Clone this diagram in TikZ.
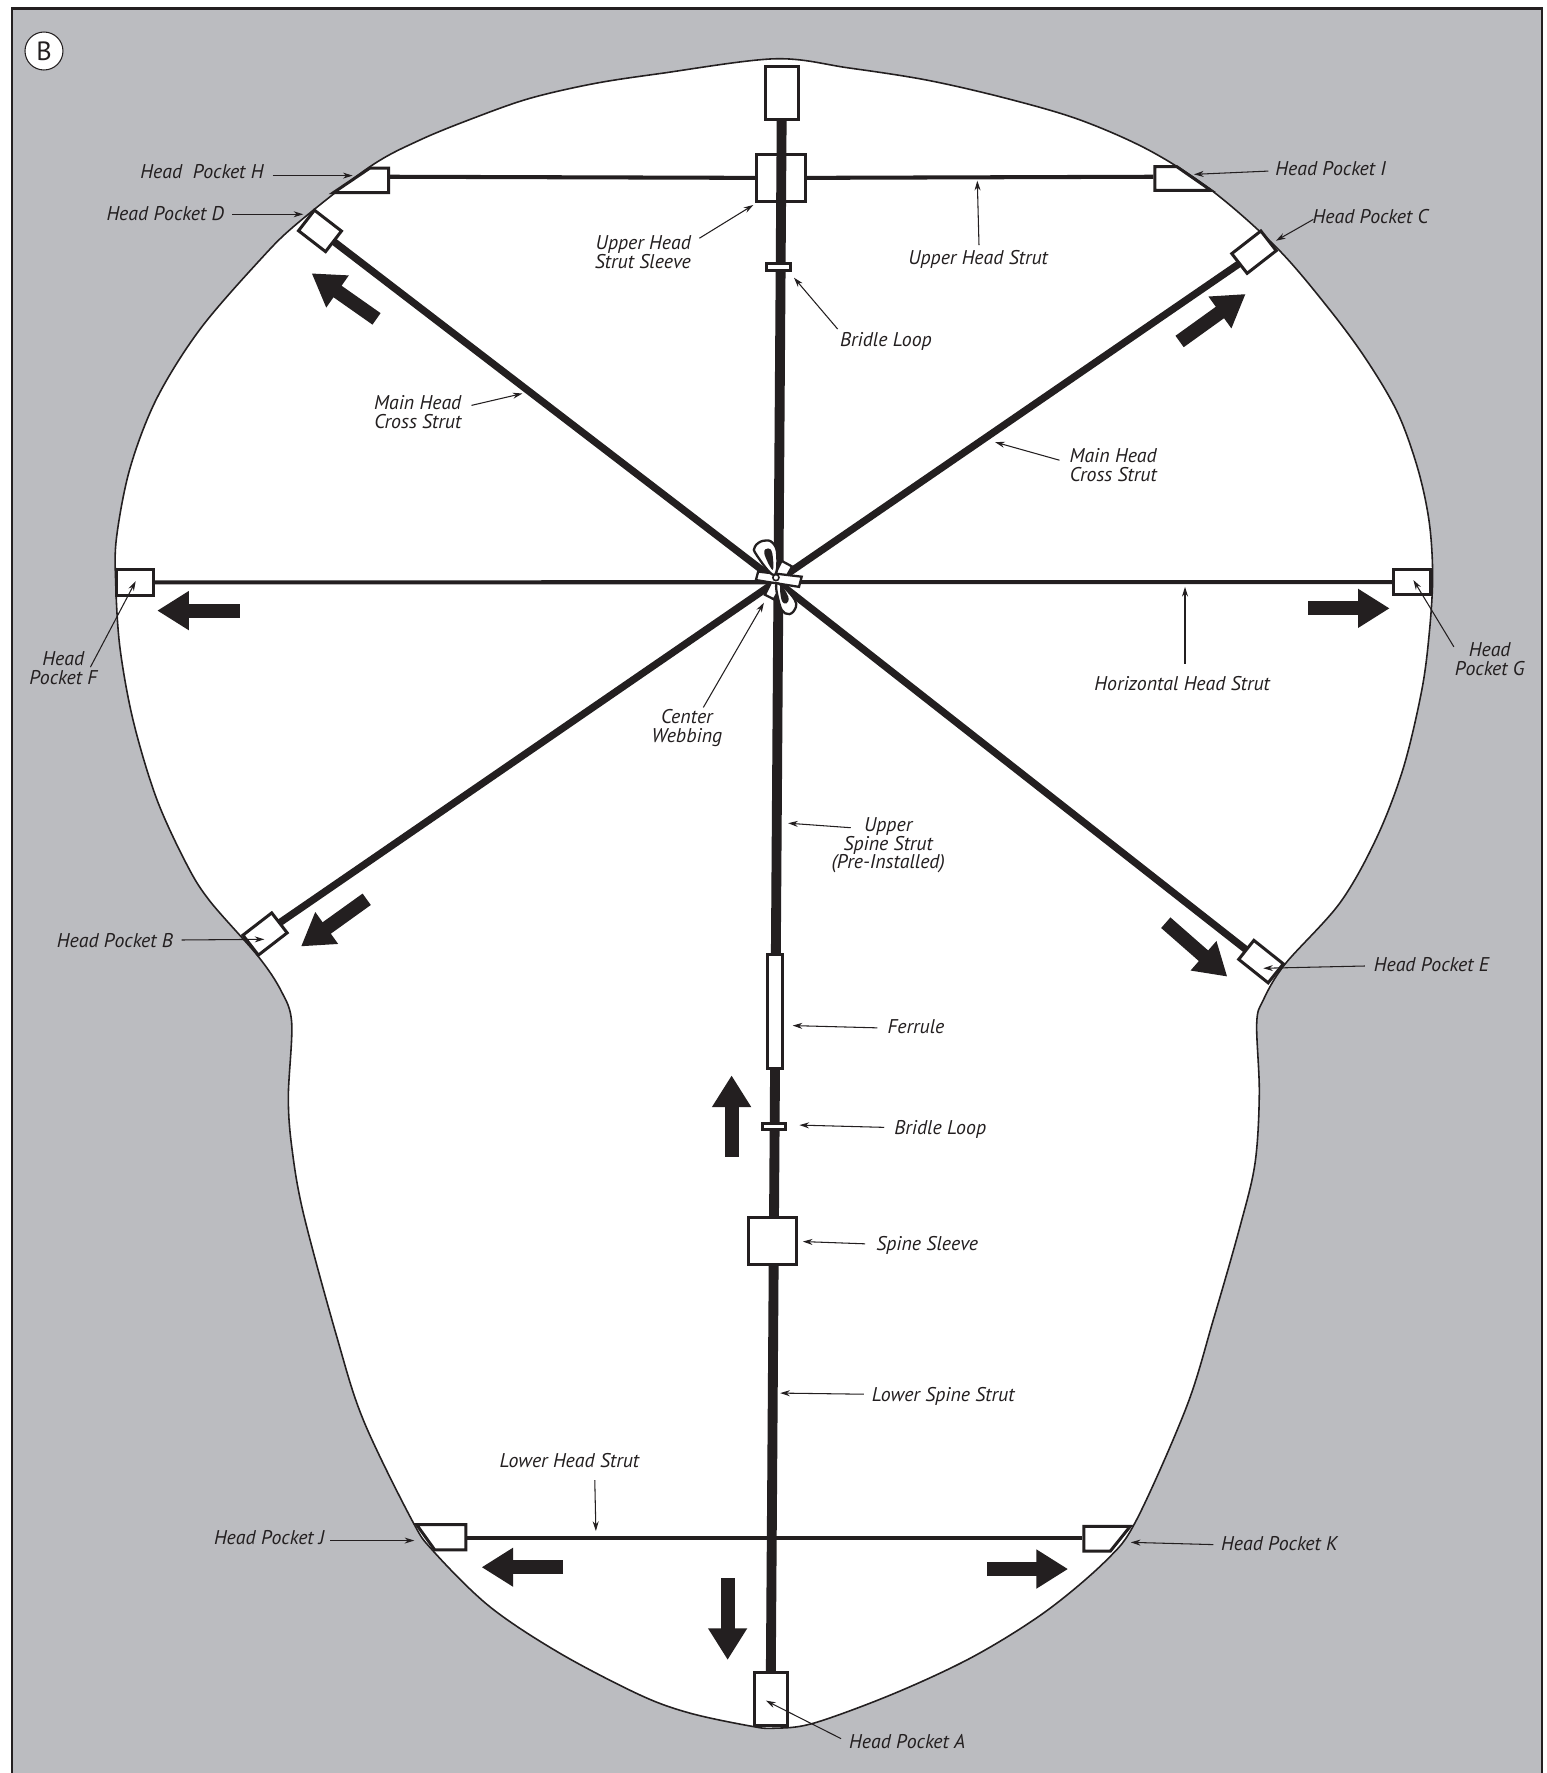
\documentclass[tikz,border=0pt]{standalone}
\usepackage{fontspec}
\setmainfont{PT Sans}
\usetikzlibrary{arrows.meta}
\definecolor{skycolor}{rgb}{0.733,0.737,0.753}
\definecolor{inkcolor}{rgb}{0.137,0.122,0.125}
\tikzset{
  pocket/.style 2 args={draw=inkcolor,fill=white,line width=1.7pt,inner sep=0pt,outer sep=0pt,
    minimum width={(#1-1.4)*0.643pt},minimum height={(#2-1.4)*0.643pt}},
  trapeze/.style={draw=inkcolor,fill=white,line width=1.7pt,line join=miter},
  thinstrut/.style={draw=inkcolor,line width=2.3pt},
  crossstrut/.style={draw=inkcolor,line width=4.1pt},
  spinestrut/.style={draw=inkcolor,line width=5.6pt},
  leader/.style={draw=inkcolor,line width=0.6pt,-{Stealth[length=5.5pt,width=3.4pt]}},
  pushdir/.style={draw=inkcolor,line width=8pt,-{Triangle[length=18pt,width=21pt]}},
  lbl/.style={text=inkcolor,inner sep=0pt,outer sep=0pt,text height=8pt,text depth=0pt,
    font=\fontsize{11.3}{10.6}\selectfont\itshape},
  lbltwo/.style={text=inkcolor,inner sep=0pt,outer sep=0pt,align=#1,
    font=\fontsize{11.3}{10.6}\selectfont\itshape},
  webbing/.style={draw=inkcolor,fill=white,line width=1.3pt}
}
\begin{document}
\begin{tikzpicture}[x={(0.643pt,0pt)},y={(0pt,-0.643pt)}]
\useasboundingbox (0,0) rectangle (1368,1568);

\fill[skycolor] (10.5,7.5) rectangle (1363.5,1568);
\draw[inkcolor,line width=1.2pt] (10.5,1568) -- (10.5,7.5) -- (1363.5,7.5) -- (1363.5,1568);
\node[circle,draw=inkcolor,fill=white,line width=0.6pt,minimum size=21.6pt,inner sep=0pt,text=inkcolor,font=\fontsize{15}{15}\selectfont] (letterB) at (38.9,45.1) {B};

% kite outline, clockwise from the top
\draw[inkcolor,line width=0.9pt,fill=white] plot[smooth cycle,tension=0.55] coordinates {
  (685,52) (750,60) (819.5,70.8) (890,87) (955,106) (1017,133.3) (1073,169.5)
  (1130.5,220.5) (1176,274) (1208.6,318.4) (1236,365) (1254,415) (1264,462) (1267,510)
  (1264,560) (1257.3,610.8) (1241,679.4) (1217.5,740.8) (1185,798.5) (1136.4,852.7) (1117.2,884.4)
  (1111.4,905) (1113.7,966.9) (1109.9,1028.8) (1096.6,1084.8) (1073,1167.3) (1049.4,1244)
  (1005.2,1344) (978.7,1379.6) (925,1425) (860.8,1465) (790,1498) (719.3,1524) (684,1528.4)
  (663.3,1526.4) (610,1515) (566,1499) (495,1462) (433,1420.8) (383.4,1372) (364.1,1344)
  (321.3,1255.8) (297.8,1182) (268.3,1073) (258,1014) (255,969.8) (258,905) (249,877)
  (228.5,846) (185.7,797) (165,764.2) (138.5,706.4) (117.9,637.8) (106.1,572.9) (102.3,515)
  (103.1,475) (115,414) (138.5,352.6) (176.8,291.3) (229.9,229.9) (262.4,198) (327.2,147.4)
  (371.4,123.8) (420,104) (468.5,87) (525,74) (584,65)};

\coordinate (hub) at (686.8,514);

% pockets
\node[pocket={30.6}{48.2}] (pocketTop) at (691.3,82.1) {};
\node[pocket={44.2}{43.4}] (sleeveUpper) at (690.7,157.3) {};
\node[pocket={31}{48.7}] (pocketA) at (681.7,1502.6) {};
\node[pocket={33.6}{23.7},rotate=37.7] (pocketB) at (234.4,826) {};
\node[pocket={34}{23.5},rotate=37.9] (pocketC) at (1109,223) {};
\node[pocket={31.6}{24.4},rotate=-37.7] (pocketD) at (283,204.2) {};
\node[pocket={34.7}{22.9},rotate=-38.6] (pocketE) at (1115.2,850.4) {};
\node[pocket={34}{24.5}] (pocketF) at (119.5,515) {};
\node[pocket={34}{24}] (pocketG) at (1249,514.8) {};

\draw[trapeze] (327,148.7) -- (343.7,148.7) -- (343.7,170.3) -- (295,170.3) -- cycle;
\draw[trapeze] (1021.3,147.3) -- (1040.6,147.3) -- (1071,168.4) -- (1021.3,168.4) -- cycle;
\draw[trapeze] (368.5,1348.4) -- (412,1348.4) -- (412,1370.7) -- (384.5,1370.7) -- cycle;
\draw[trapeze] (958.5,1349.9) -- (999.5,1349.9) -- (982,1371.7) -- (958.5,1371.7) -- cycle;
\coordinate (pocketH) at (345,156.3);
\coordinate (pocketI) at (1020,156.3);
\coordinate (pocketJ) at (413.3,1360.2);
\coordinate (pocketK) at (957.2,1360.2);

% struts
\draw[thinstrut] (pocketH) -- (sleeveUpper.west);
\draw[thinstrut] (sleeveUpper.east) -- (pocketI);
\draw[thinstrut] (pocketJ) -- (pocketK);
\draw[thinstrut] (pocketF.east) -- (pocketG.west);
\draw[crossstrut] (pocketD.east) -- (hub);
\draw[crossstrut] (pocketC.west) -- (hub);
\draw[crossstrut] (pocketB.east) -- (hub);
\draw[crossstrut] (pocketE.west) -- (hub);
\draw[spinestrut] (pocketTop.south) -- (pocketA.north);

\node[pocket={22.2}{7.4}] (loopUpper) at (688.5,236.3) {};
\node[pocket={21}{7}] (loopLower) at (684.5,996) {};
\node[pocket={15}{103}] (ferrule) at (685.5,894.5) {};
\node[pocket={44}{43}] (sleeveSpine) at (683,1097.5) {};

% center webbing
\draw[webbing] (691.2,496) -- (700.5,501) -- (684.4,530) -- (676.5,526) -- cycle;
\draw[webbing] (670.5,505.5) -- (709,510) -- (706.6,519) -- (668.5,513) -- cycle;
\draw[webbing] plot[smooth cycle,tension=0.7] coordinates {(684.4,508.5) (669.1,490.8) (667.6,483.5) (675,478.2) (683.3,480) (687.4,490.8)};
\fill[inkcolor] plot[smooth cycle,tension=0.7] coordinates {(683.3,504) (675.9,489.4) (679.4,485) (683,489.4)};
\draw[webbing] plot[smooth cycle,tension=0.7] coordinates {(687.4,515.9) (703,530.6) (701.5,541) (694.2,542.4) (689.2,533.6)};
\fill[inkcolor] plot[smooth cycle,tension=0.7] coordinates {(690.3,517.4) (697.1,527.7) (695.6,533.6) (691.2,530.6)};
\node[circle,draw=inkcolor,fill=white,line width=0.9pt,minimum size=3.5pt,inner sep=0pt] (knot) at (686.2,510.8) {};

% direction arrows
\draw[pushdir] (333,282) -- (275.6,241.7);
\draw[pushdir] (1043.2,302) -- (1101.6,260);
\draw[pushdir] (1031,816) -- (1085.4,863.7);
\draw[pushdir] (324.3,795.3) -- (266.2,837);
\draw[pushdir] (212,540) -- (139,540);
\draw[pushdir] (1157,538) -- (1229,538);
\draw[pushdir] (647,1023) -- (647,951);
\draw[pushdir] (643.5,1395.7) -- (643.5,1468);
\draw[pushdir] (498,1386) -- (425.9,1386);
\draw[pushdir] (873,1387.6) -- (944.6,1387.6);

% labels
\node[lbl,anchor=east] (lblH) at (233,152) {Head\ \ Pocket H};
\node[lbl,anchor=east] (lblD) at (198,189) {Head Pocket D};
\node[lbl,anchor=west] (lblI) at (1128,149) {Head Pocket I};
\node[lbl,anchor=west] (lblC) at (1160.9,191) {Head Pocket C};
\node[lbl,anchor=west] (lblE) at (1215,853) {Head Pocket E};
\node[lbl,anchor=east] (lblB) at (153,832) {Head Pocket B};
\node[lbl,anchor=west] (lblK) at (1080,1365) {Head Pocket K};
\node[lbl,anchor=east] (lblJ) at (287,1360) {Head Pocket J};
\node[lbl,anchor=west] (lblA) at (751,1540) {Head Pocket A};
\node[lbl] (lblUpperHead) at (865,228) {Upper Head Strut};
\node[lbl,anchor=west] (lblLoopUpper) at (743,300) {Bridle Loop};
\node[lbl] (lblHorizontal) at (1045.5,604) {Horizontal Head Strut};
\node[lbl,anchor=west] (lblFerrule) at (785,908) {Ferrule};
\node[lbl,anchor=west] (lblLoopLower) at (791,997) {Bridle Loop};
\node[lbl,anchor=west] (lblSleeve) at (775,1100) {Spine Sleeve};
\node[lbl,anchor=west] (lblLowerSpine) at (771,1233) {Lower Spine Strut};
\node[lbl] (lblLowerHead) at (503.5,1292) {Lower Head Strut};
\node[lbltwo=right,anchor=east] (lblMainLeft) at (408,364.5) {Main Head\\Cross Strut};
\node[lbltwo=right,anchor=east] (lblMainRight) at (1023,411.5) {Main Head\\Cross Strut};
\node[lbltwo=right,anchor=east] (lblUpperSleeve) at (611,223) {Upper Head\\Strut Sleeve};
\node[lbltwo=center] (lblF) at (56,591) {Head\\Pocket F};
\node[lbltwo=center] (lblG) at (1317.5,583) {Head\\Pocket G};
\node[lbltwo=center] (lblWebbing) at (607.5,644) {Center\\Webbing};
\node[lbltwo=center] (lblUpperSpine) at (785.5,747.5) {Upper\\Spine Strut\\(Pre-Installed)};

% leader ends
\coordinate (tipH) at (311.9,155.3);
\coordinate (tipD) at (268.2,189.5);
\coordinate (tipI) at (1055.9,154.2);
\coordinate (tipC) at (1128.4,212.9);
\coordinate (tipE) at (1117.2,856.3);
\coordinate (tipB) at (233.8,830.7);
\coordinate (tipK) at (1000,1364);
\coordinate (tipJ) at (366.4,1362.4);
\coordinate (tipA) at (677.4,1504);
\coordinate (tipUpperHead) at (864.3,159.8);
\coordinate (tipLoopUpper) at (702.2,245.6);
\coordinate (tipHorizontal) at (1048,519);
\coordinate (tipFerrule) at (701,907);
\coordinate (tipLoopLower) at (707,995);
\coordinate (tipSleeve) at (710,1098);
\coordinate (tipLowerSpine) at (690,1232);
\coordinate (tipLowerHead) at (527,1354);
\coordinate (tipMainLeft) at (462,348);
\coordinate (tipMainRight) at (880,391);
\coordinate (tipUpperSleeve) at (666.2,181.3);
\coordinate (tipF) at (120,514);
\coordinate (tipG) at (1250,513);
\coordinate (tipWebbing) at (675.6,533);
\coordinate (tipUpperSpine) at (697,728);

\draw[leader] ([shift={(8,3.3)}]lblH.east) -- (tipH);
\draw[leader] ([shift={(7.5,0.5)}]lblD.east) -- (tipD);
\draw[leader] ([shift={(-6.3,2.3)}]lblI.west) -- (tipI);
\draw[leader] ([shift={(0.6,3)}]lblC.west) -- (tipC);
\draw[leader] ([shift={(-8,1.3)}]lblE.west) -- (tipE);
\draw[leader] ([shift={(7.7,-0.7)}]lblB.east) -- (tipB);
\draw[leader] ([shift={(-7,1)}]lblK.west) -- (tipK);
\draw[leader] ([shift={(5,2.4)}]lblJ.east) -- (tipJ);
\draw[leader] ([shift={(-7.2,-2.4)}]lblA.west) -- (tipA);
\draw[leader] ([shift={(0.8,-5)}]lblUpperHead.north) -- (tipUpperHead);
\draw[leader] ([shift={(-2.2,-9)}]lblLoopUpper.west) -- (tipLoopUpper);
\draw[leader] ([shift={(2.5,-10.7)}]lblHorizontal.north) -- (tipHorizontal);
\draw[leader] ([shift={(-9,1)}]lblFerrule.west) -- (tipFerrule);
\draw[leader] ([shift={(-9,0)}]lblLoopLower.west) -- (tipLoopLower);
\draw[leader] ([shift={(-10,0)}]lblSleeve.west) -- (tipSleeve);
\draw[leader] ([shift={(-7,0)}]lblLowerSpine.west) -- (tipLowerSpine);
\draw[leader] ([shift={(22.5,10.7)}]lblLowerHead.south) -- (tipLowerHead);
\draw[leader] ([shift={(9,-6)}]lblMainLeft.east) -- (tipMainLeft);
\draw[leader] ([shift={(-86,-4.5)}]lblMainRight.east) -- (tipMainRight);
\draw[leader] ([shift={(7.5,-12.3)}]lblUpperSleeve.east) -- (tipUpperSleeve);
\draw[leader] ([shift={(-6,-1)}]lblF.east) -- (tipF);
\draw[leader] ([shift={(-1,-11)}]lblG.west) -- (tipG);
\draw[leader] ([shift={(14.5,-2)}]lblWebbing.north) -- (tipWebbing);
\draw[leader] ([shift={(17,-15.5)}]lblUpperSpine.west) -- (tipUpperSpine);
\end{tikzpicture}
\end{document}
